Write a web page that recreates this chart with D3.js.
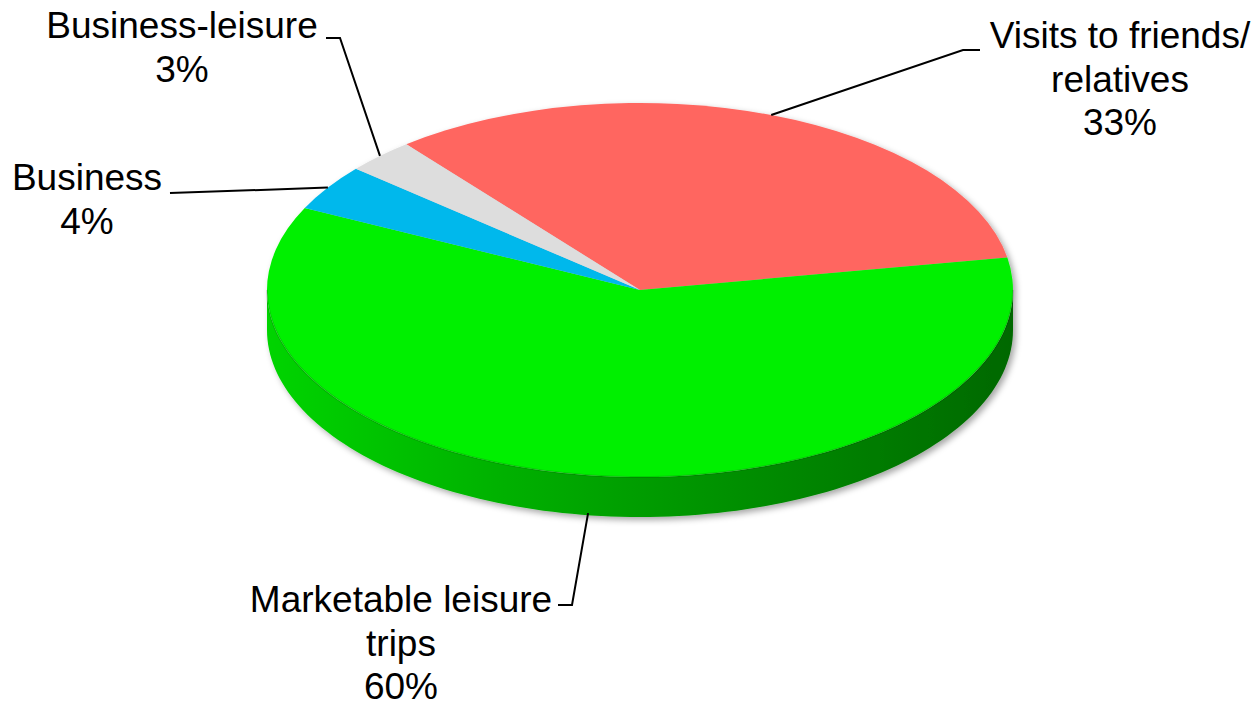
<!DOCTYPE html>
<html>
<head>
<meta charset="utf-8">
<script src="https://cdn.jsdelivr.net/npm/d3@7"></script>
<style>
  html, body { margin: 0; padding: 0; background: #ffffff; }
  svg { display: block; }
  text { font-family: "Liberation Sans", Arial, sans-serif; fill: #000; }
</style>
</head>
<body>
<svg id="chart" width="1257" height="706"></svg>
<script>
// Trip purposes and their shares (%)
const categories = ["Visits to friends/relatives", "Marketable leisure trips", "Business", "Business-leisure"];
const shares = [33, 60, 4, 3];
const labelLines = [
  ["Visits to friends/", "relatives"],
  ["Marketable leisure", "trips"],
  ["Business"],
  ["Business-leisure"]
];
const colors = ["#ff6661", "#00f000", "#00b8ec", "#dddddd"];

// Layout of the tilted pie
const W = 1257, H = 706;
const cx = 640, cy = 290, rx = 373, ry = 187, depth = 40;
const startDeg = -38.8;

// Label placement: centre x, first baseline, elbow end of the leader
const labelLayout = [
  { x: 1120, y: 48, elbowX: 963, elbowY: 50, lineStart: 980 },
  { x: 401, y: 612, elbowX: 572, elbowY: 605, lineStart: 558 },
  { x: 87, y: 190, elbowX: 170, elbowY: 193, lineStart: 170 },
  { x: 182, y: 38, elbowX: 340, elbowY: 38, lineStart: 326 }
];

const svg = d3.select("#chart");
const defs = svg.append("defs");

const shadow = defs.append("filter").attr("id", "shadow")
  .attr("x", "-10%").attr("y", "-10%").attr("width", "120%").attr("height", "130%");
shadow.append("feDropShadow").attr("dx", 3).attr("dy", 3).attr("stdDeviation", 3)
  .attr("flood-color", "#000").attr("flood-opacity", 0.35);

const sideGrad = defs.append("linearGradient").attr("id", "sideGrad")
  .attr("gradientUnits", "userSpaceOnUse")
  .attr("x1", cx - rx).attr("x2", cx + rx).attr("y1", 0).attr("y2", 0);
sideGrad.append("stop").attr("offset", "0%").attr("stop-color", "#00d400");
sideGrad.append("stop").attr("offset", "45%").attr("stop-color", "#00a200");
sideGrad.append("stop").attr("offset", "100%").attr("stop-color", "#006800");

const pie = d3.pie().sort(null)
  .startAngle(startDeg * Math.PI / 180)
  .endAngle(startDeg * Math.PI / 180 + 2 * Math.PI);
const arcs = pie(shares);

// Position on the rim for a d3 angle (0 = 12 o'clock, clockwise)
const rimX = a => cx + rx * Math.sin(a);
const rimY = a => cy - ry * Math.cos(a);

const g = svg.append("g").attr("filter", "url(#shadow)");

// Front side walls (visible where the rim faces the viewer)
const front = [Math.PI / 2, 3 * Math.PI / 2];
arcs.forEach((d, i) => {
  [-2 * Math.PI, 0, 2 * Math.PI].forEach(shift => {
    const a0 = Math.max(d.startAngle + shift, front[0]);
    const a1 = Math.min(d.endAngle + shift, front[1]);
    if (a1 <= a0) return;
    const n = 120;
    const top = d3.range(n + 1).map(k => a0 + (a1 - a0) * k / n);
    const pts = top.map(a => [rimX(a), rimY(a)])
      .concat(top.slice().reverse().map(a => [rimX(a), rimY(a) + depth]));
    g.append("path")
      .attr("d", d3.line()(pts) + "Z")
      .attr("fill", i === 1 ? "url(#sideGrad)" : d3.color(colors[i]).darker(0.8));
  });
});

// Top face: circular arcs squashed into the ellipse
const arc = d3.arc().innerRadius(0).outerRadius(rx);
const topFace = g.append("g")
  .attr("transform", `translate(${cx},${cy}) scale(1,${ry / rx})`);
topFace.selectAll("path").data(arcs).join("path")
  .attr("d", arc)
  .attr("fill", (d, i) => colors[i]);

// Soft bevel along the front rim of the top face
const rimPts = d3.range(0, 121).map(k => {
  const a = Math.PI / 2 + Math.PI * k / 120;
  return [rimX(a), rimY(a)];
});
svg.append("path").attr("d", d3.line()(rimPts))
  .attr("fill", "none").attr("stroke", "#000").attr("stroke-opacity", 0.12)
  .attr("stroke-width", 2);

// Leader lines and labels
const fontSize = 37, lineH = 43.5;
arcs.forEach((d, i) => {
  const mid = (d.startAngle + d.endAngle) / 2;
  const frontFacing = Math.cos(mid) < 0;
  const ax = rimX(mid);
  const ay = rimY(mid) + (frontFacing ? depth - 2 : 0);
  const L = labelLayout[i];
  svg.append("path")
    .attr("d", d3.line()([[L.lineStart, L.elbowY], [L.elbowX, L.elbowY], [ax, ay]]))
    .attr("fill", "none").attr("stroke", "#000").attr("stroke-width", 2);

  const lines = labelLines[i].concat([d3.format(".0f")(d.data) + "%"]);
  const t = svg.append("text")
    .attr("text-anchor", "middle")
    .attr("font-size", fontSize);
  lines.forEach((s, k) => {
    t.append("tspan").attr("x", L.x).attr("y", L.y + k * lineH).text(s);
  });
});
</script>
</body>
</html>
